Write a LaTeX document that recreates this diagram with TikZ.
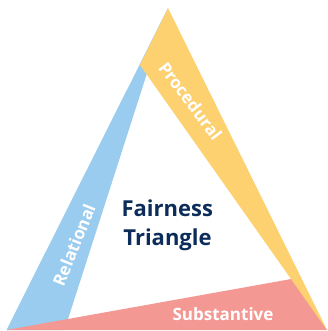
\documentclass[tikz,border=0pt]{standalone}
\usepackage{fontspec}
\setmainfont{Open Sans}
\definecolor{bandblue}{RGB}{153,204,238}
\definecolor{bandyellow}{RGB}{253,208,112}
\definecolor{bandpink}{RGB}{244,152,148}
\definecolor{navy}{RGB}{12,45,90}
\begin{document}
\begin{tikzpicture}[x=1pt,y=-1pt,
  bandlabel/.style={text=white,font=\fontsize{17}{20}\selectfont\bfseries,inner sep=0pt},
  titlelabel/.style={text=navy,font=\fontsize{22}{26}\selectfont\bfseries,inner sep=0pt,anchor=base}]
\useasboundingbox (0,0) rectangle (327,331);
% corners
\coordinate (top) at (168,8);
\coordinate (bl) at (6.5,330);
\coordinate (br) at (327,330);
\coordinate (blueinner) at (64.5,330);
\coordinate (yellowleft) at (140,65);
\coordinate (pinktop) at (294,278.5);
% bands
\fill[bandblue] (top) -- (bl) -- (blueinner) -- cycle;
\fill[bandpink] (bl) -- (br) -- (pinktop) -- cycle;
\fill[bandyellow] (top) -- (yellowleft) -- (br) -- cycle;
% labels
\node[bandlabel,rotate=-53] (proc) at (190.5,101) {Procedural};
\node[bandlabel,rotate=68] (rel) at (74,245) {Relational};
\node[bandlabel,anchor=base] (sub) at (223,320) {Substantive};
\node[titlelabel] (t1) at (167.3,216.7) {Fairness};
\node[titlelabel] (t2) at (167.5,245.3) {Triangle};
\end{tikzpicture}
\end{document}
